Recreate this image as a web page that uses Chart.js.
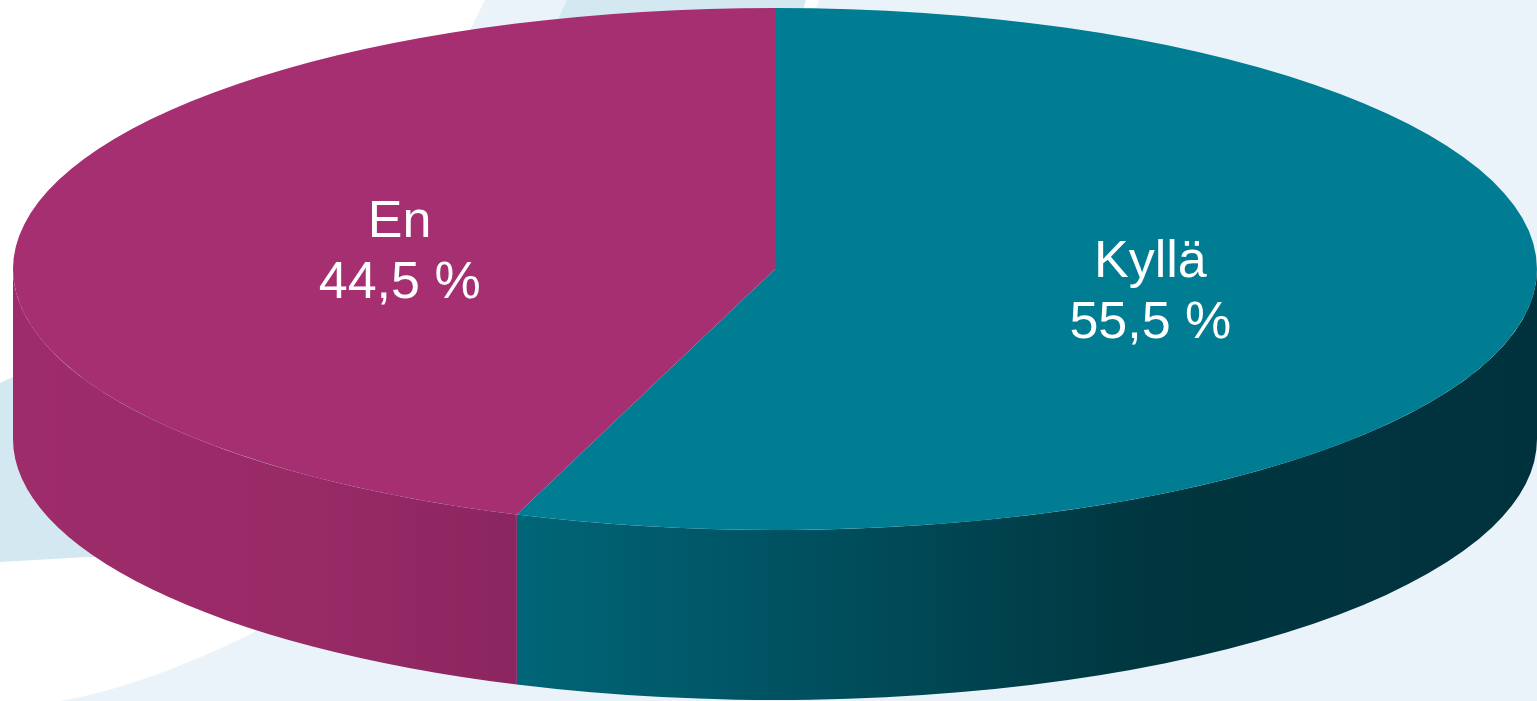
<!DOCTYPE html>
<html>
<head>
<meta charset="utf-8">
<script src="https://cdn.jsdelivr.net/npm/chart.js@4"></script>
<style>
html,body{margin:0;padding:0;background:#E9F3F9;overflow:hidden}
canvas{display:block}
</style>
</head>
<body>
<canvas id="c" width="1537" height="701"></canvas>
<script>
// ---- data ----
const categories = ['Kyllä', 'En'];
const values = [55.5, 44.5];
const topColors = ['#007D93', '#A62F72'];

function fmt(v) { return v.toFixed(1).replace('.', ',') + ' %'; }

// side gradients, left -> right
const sideGradients = [
  [[0, '#006678'], [0.3, '#004F5E'], [0.62, '#00363F'], [1, '#00323D']],
  [[0, '#9E2C6B'], [0.6, '#982A66'], [1, '#8B2660']]
];

const pie3d = {
  id: 'pie3d',
  beforeDraw(chart) {
    const ctx = chart.ctx;
    ctx.save();
    ctx.fillStyle = '#E9F3F9';
    ctx.fillRect(0, 0, chart.width, chart.height);
    // white swoosh
    ctx.fillStyle = '#FFFFFF';
    ctx.beginPath();
    ctx.moveTo(0, 0);
    ctx.lineTo(485, 0);
    ctx.lineTo(440, 90);
    ctx.lineTo(330, 560);
    ctx.lineTo(253, 633);
    ctx.quadraticCurveTo(143, 687, 60, 701);
    ctx.lineTo(0, 701);
    ctx.closePath();
    ctx.fill();
    // blue band left
    ctx.fillStyle = '#D4E8F1';
    ctx.beginPath();
    ctx.moveTo(0, 383);
    ctx.lineTo(13, 377);
    ctx.lineTo(400, 330);
    ctx.lineTo(400, 555);
    ctx.lineTo(87, 557);
    ctx.lineTo(0, 562);
    ctx.closePath();
    ctx.fill();
    // blue strip top
    ctx.beginPath();
    ctx.moveTo(567, 0);
    ctx.lineTo(535, 70);
    ctx.lineTo(800, 70);
    ctx.lineTo(806, 0);
    ctx.closePath();
    ctx.fill();
    // thin white line
    ctx.fillStyle = '#FFFFFF';
    ctx.beginPath();
    ctx.moveTo(806, 0);
    ctx.lineTo(819, 0);
    ctx.lineTo(812, 20);
    ctx.lineTo(800, 20);
    ctx.closePath();
    ctx.fill();
    ctx.restore();
  },
  beforeDatasetsDraw(chart) {
    const ctx = chart.ctx;
    const meta = chart.getDatasetMeta(0);
    const a0 = meta.data[0];
    const cx = a0.x, cy = a0.y, r = a0.outerRadius;
    const rx = (chart.chartArea.right - chart.chartArea.left) / 2;
    const ry = r;
    const depth = chart.height - chart.chartArea.bottom - 1;
    meta.data.forEach((arc, i) => {
      const lo = Math.max(arc.startAngle, 0);
      const hi = Math.min(arc.endAngle, Math.PI);
      if (hi <= lo) return;
      const xl = cx + rx * Math.cos(hi), xr = cx + rx * Math.cos(lo);
      const g = ctx.createLinearGradient(xl, 0, xr, 0);
      sideGradients[i].forEach(([p, c]) => g.addColorStop(p, c));
      ctx.fillStyle = g;
      ctx.beginPath();
      ctx.ellipse(cx, cy, rx, ry, 0, lo, hi);
      ctx.ellipse(cx, cy + depth, rx, ry, 0, hi, lo, true);
      ctx.closePath();
      ctx.fill();
    });
    ctx.save();
    ctx.translate(cx, 0);
    ctx.scale(rx / r, 1);
    ctx.translate(-cx, 0);
  },
  afterDatasetsDraw(chart) {
    const ctx = chart.ctx;
    ctx.restore();
    const meta = chart.getDatasetMeta(0);
    const a0 = meta.data[0];
    const cx = a0.x, cy = a0.y, r = a0.outerRadius;
    const rx = (chart.chartArea.right - chart.chartArea.left) / 2;
    ctx.save();
    ctx.fillStyle = '#FFFFFF';
    ctx.font = '52px "Liberation Sans", Arial, sans-serif';
    ctx.textAlign = 'center';
    ctx.textBaseline = 'alphabetic';
    meta.data.forEach((arc, i) => {
      const mid = (arc.startAngle + arc.endAngle) / 2;
      const x = cx + rx * Math.cos(mid) * 0.5;
      const y0 = cy + r * Math.sin(mid) * 0.45 + 18.5;
      ctx.fillText(categories[i], x, y0 - 30.75);
      ctx.fillText(fmt(values[i]), x, y0 + 30.75);
    });
    ctx.restore();
  }
};

new Chart(document.getElementById('c'), {
  type: 'pie',
  data: {
    labels: categories,
    datasets: [{
      data: values,
      backgroundColor: topColors,
      borderWidth: 0,
      hoverOffset: 0,
      clip: false
    }]
  },
  options: {
    responsive: false,
    devicePixelRatio: 1,
    animation: false,
    events: [],
    layout: { padding: { left: 13, right: 0, top: 8, bottom: 171 } },
    plugins: { legend: { display: false }, tooltip: { enabled: false } }
  },
  plugins: [pie3d]
});
</script>
</body>
</html>
